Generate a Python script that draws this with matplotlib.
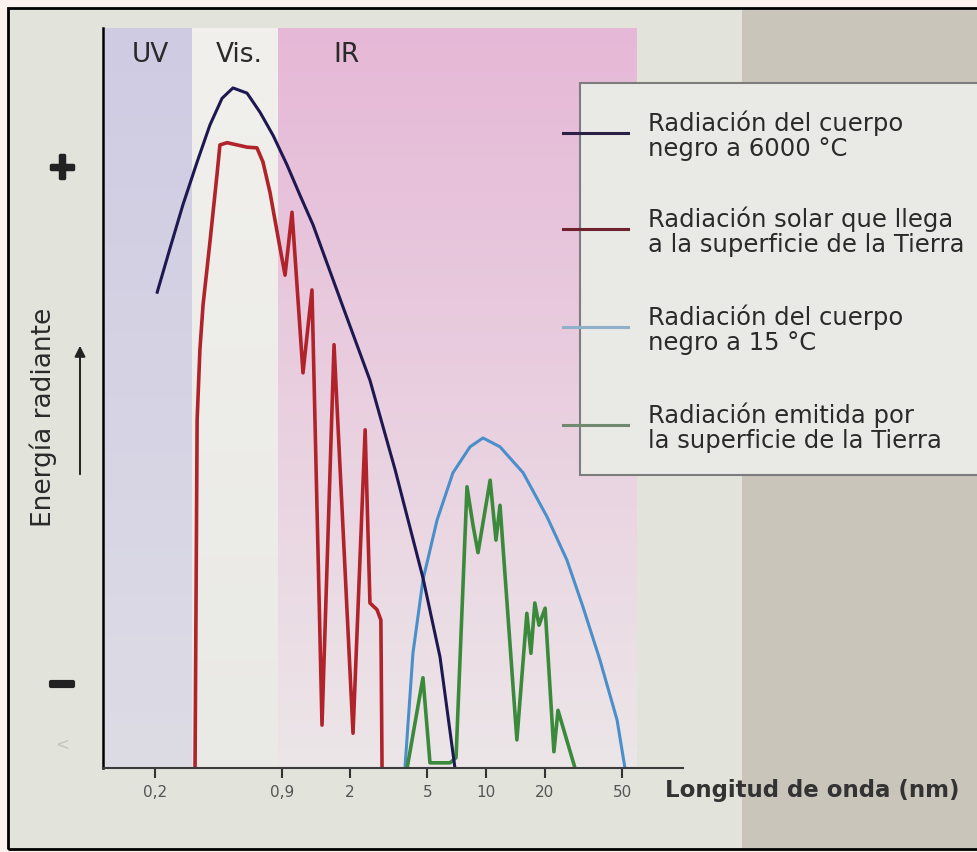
import numpy as np
import matplotlib.pyplot as plt
import matplotlib.colors as mcolors
import matplotlib.patheffects as pe
from matplotlib.patches import Rectangle, FancyArrowPatch
from matplotlib.lines import Line2D
from matplotlib.ticker import NullLocator

# wavelength values and relative radiant energy (0-100)
sun_bb_wl = [0.206, 0.240, 0.279, 0.330, 0.384, 0.443, 0.504, 0.595, 0.694, 0.809,
             0.954, 1.112, 1.297, 1.848, 2.54, 3.42, 4.75, 5.81, 6.93]
sun_bb_e = [64.3, 70.3, 76.1, 81.9, 86.9, 90.5, 91.9, 91.2, 88.6, 85.5,
            81.5, 77.4, 73.4, 62.3, 52.4, 40.3, 25.7, 15.0, 0.0]

solar_wl = [0.322, 0.330, 0.341, 0.354, 0.384, 0.417, 0.432, 0.470, 0.595, 0.669,
            0.718, 0.780, 0.878, 0.932, 1.012, 1.152, 1.281, 1.442, 1.662, 2.08,
            2.40, 2.54, 2.76, 2.89, 2.93]
solar_e = [0.0, 47.0, 56.5, 62.6, 71.1, 80.1, 84.2, 84.5, 83.9, 83.8,
           81.9, 77.8, 70.3, 66.6, 75.1, 53.4, 64.6, 5.8, 57.2, 4.7,
           45.7, 22.3, 21.4, 20.0, 0.0]

earth_bb_wl = [3.84, 4.22, 4.75, 5.61, 6.77, 8.28, 9.65, 11.8, 15.5, 20.6, 26.0, 31.4, 38.4, 47.0, 51.6]
earth_bb_e = [0.0, 15.5, 25.4, 33.5, 39.9, 43.4, 44.6, 43.4, 39.9, 33.9, 28.1, 21.8, 14.6, 6.5, 0.0]

earth_wl = [3.94, 4.75, 5.16, 6.54, 7.02, 7.99, 8.58, 9.10, 10.5, 11.25,
            11.8, 14.4, 16.2, 17.0, 17.8, 18.7, 20.1, 22.3, 23.4, 28.6]
earth_e = [0.0, 12.2, 0.7, 0.7, 1.4, 38.0, 32.8, 29.1, 38.9, 30.8,
           35.5, 3.8, 20.9, 15.5, 22.3, 19.3, 21.6, 2.2, 7.8, 0.0]

tick_values = [0.2, 0.9, 2, 5, 10, 20, 50]
tick_labels = ['0,2', '0,9', '2', '5', '10', '20', '50']

band_names = ['UV', 'Vis.', 'IR']
uv_vis_edge = 0.31
vis_ir_edge = 0.86
ir_end = 59.5

legend_labels = ['Radiación del cuerpo\nnegro a 6000 °C',
                 'Radiación solar que llega\na la superficie de la Tierra',
                 'Radiación del cuerpo\nnegro a 15 °C',
                 'Radiación emitida por\nla superficie de la Tierra']

W, H = 977, 852


def fx(px):
    return px / W


def fy(py):
    return 1 - py / H


def vgrad(top, bottom, n=200):
    t = np.linspace(0, 1, n)[:, None]
    c0 = np.array(mcolors.to_rgb(top))
    c1 = np.array(mcolors.to_rgb(bottom))
    return (c0 * (1 - t) + c1 * t)[:, None, :]


fig = plt.figure(figsize=(9.77, 8.52), dpi=100, facecolor='#fcf1ec')

# panel background
fig.add_artist(Rectangle((fx(8), fy(849)), fx(990 - 8), (849 - 8) / H, transform=fig.transFigure,
                         facecolor='#e2e3da', edgecolor='none', zorder=-3))
fig.add_artist(Rectangle((fx(742), fy(848)), fx(250), (848 - 9) / H, transform=fig.transFigure,
                         facecolor='#c9c5bb', edgecolor='none', zorder=-2.9))
fig.add_artist(Rectangle((fx(8), fy(849)), fx(990 - 8), (849 - 8) / H, transform=fig.transFigure,
                         facecolor='none', edgecolor='black', lw=2, zorder=5))

rect = [fx(103), fy(768), fx(683 - 103), (768 - 28) / H]
xlim = (0.1086, 102.4)

# spectral bands
ax_bg = fig.add_axes(rect)
ax_bg.set_zorder(-1)
lx0 = np.log10(xlim[0])
ax_bg.imshow(vgrad('#cfcbe3', '#dddce5'), extent=[lx0 + 0.01, np.log10(uv_vis_edge), 0, 100],
             aspect='auto', origin='upper')
ax_bg.imshow(vgrad('#f1f0ec', '#e9e9e5'), extent=[np.log10(uv_vis_edge), np.log10(vis_ir_edge), 0, 100],
             aspect='auto', origin='upper')
ax_bg.imshow(vgrad('#e6b8d7', '#ece6e8'), extent=[np.log10(vis_ir_edge), np.log10(ir_end), 0, 100],
             aspect='auto', origin='upper')
ax_bg.set_xlim(np.log10(xlim))
ax_bg.set_ylim(0, 100)
ax_bg.axis('off')

ax = fig.add_axes(rect, facecolor='none')
ax.set_zorder(0.5)
ax.set_xscale('log')
ax.plot(earth_bb_wl, earth_bb_e, color='#4a8fca', lw=2.2)
ax.plot(earth_wl, earth_e, color='#3b8a3b', lw=2.6)
ax.plot(solar_wl, solar_e, color='#b0232b', lw=2.6)
ax.plot(sun_bb_wl, sun_bb_e, color='#1d1850', lw=2.2)
ax.set_xlim(xlim)
ax.set_ylim(0, 100)
for s in ('top', 'right'):
    ax.spines[s].set_visible(False)
ax.spines['left'].set_color('black')
ax.spines['left'].set_linewidth(1.8)
ax.spines['bottom'].set_color('#3c3c3c')
ax.spines['bottom'].set_linewidth(1.5)
ax.set_yticks([])
ax.set_xticks(tick_values)
ax.set_xticklabels(tick_labels)
ax.xaxis.set_minor_locator(NullLocator())
ax.tick_params(axis='x', length=7, width=1.5, color='#333333', pad=5, labelsize=11, labelcolor='#555555')

# band names
for name, px in zip(band_names, [150, 239, 346]):
    fig.text(fx(px), fy(55), name, ha='center', va='center', fontsize=19, color='#2a2a2a')

# legend box
fig.add_artist(Rectangle((fx(580), fy(475)), fx(410), (475 - 83) / H, transform=fig.transFigure,
                         facecolor='#e9e9e5', edgecolor='#7d7d7d', lw=1.5, zorder=2))
legend_colors = ['#2b2046', '#6e2230', '#8fb0c8', '#6f8a6f']
for lab, col, py in zip(legend_labels, legend_colors, [133, 229, 327, 425]):
    fig.add_artist(Line2D([fx(563), fx(628)], [fy(py), fy(py)], transform=fig.transFigure,
                          color=col, lw=2.2, zorder=3))
    fig.text(fx(648), fy(py + 3), lab, ha='left', va='center', fontsize=17.5, color='#2a2a2a',
             linespacing=1.05, zorder=3)

# y label, arrow and signs
fig.text(fx(43), fy(417), 'Energía radiante', rotation=90, ha='center', va='center',
         fontsize=19, color='#2a2a2a')
fig.add_artist(FancyArrowPatch((fx(80), fy(477)), (fx(80), fy(343)), transform=fig.transFigure,
                               arrowstyle='-|>', mutation_scale=16, lw=1.4, color='#222222'))
fig.text(fx(62), fy(168), '+', fontsize=26, fontweight='bold', ha='center', va='center',
         color='#222222', path_effects=[pe.withStroke(linewidth=2.5, foreground='#222222')])
fig.text(fx(62), fy(685), '−', fontsize=26, fontweight='bold', ha='center', va='center',
         color='#222222', path_effects=[pe.withStroke(linewidth=3, foreground='#222222')])
fig.text(fx(62), fy(745), '<', fontsize=12, ha='center', va='center', color='#c6c6c0')

fig.text(fx(665), fy(790), 'Longitud de onda (nm)', ha='left', va='center', fontsize=16.5,
         fontweight='bold', color='#333333')

fig.savefig('out.png', dpi=100, facecolor=fig.get_facecolor())
plt.close(fig)
